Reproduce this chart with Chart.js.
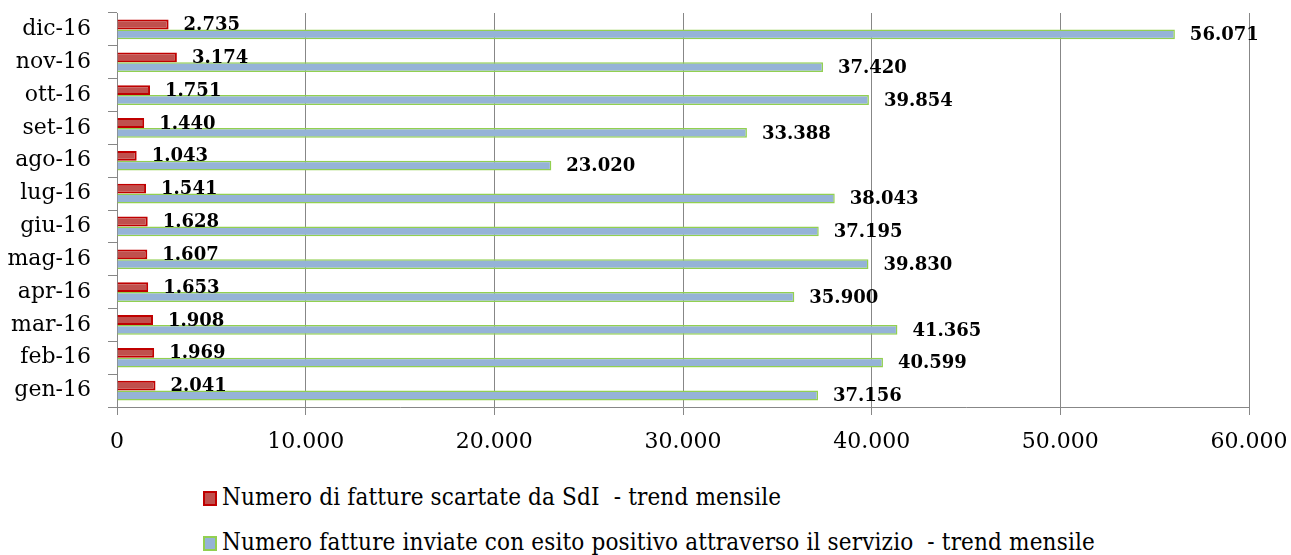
<!DOCTYPE html>
<html>
<head>
<meta charset="utf-8">
<script src="https://cdn.jsdelivr.net/npm/chart.js@4"></script>
<style>
  body { margin: 0; background: #fff; }
  #wrap { position: relative; width: 1291px; height: 555px; }
  #chart { position: absolute; left: 0; top: 0; }
  .leg { position: absolute; left: 203px; font-family: 'DejaVu Serif Condensed', 'DejaVu Serif', serif; font-stretch: condensed; font-size: 24px; letter-spacing: 0.15px; color: #000; white-space: pre; line-height: 28px; }
  .leg span.box { display: inline-block; width: 10px; height: 11px; border: 2px solid; margin-right: 5px; vertical-align: -1px; }
</style>
</head>
<body>
<div id="wrap">
  <canvas id="chart" width="1291" height="465"></canvas>
  <div class="leg" id="leg1" style="top:483px"></div>
  <div class="leg" id="leg2" style="top:528px"></div>
</div>
<script>
const months = ['dic-16', 'nov-16', 'ott-16', 'set-16', 'ago-16', 'lug-16', 'giu-16', 'mag-16', 'apr-16', 'mar-16', 'feb-16', 'gen-16'];
const scartate = [2735, 3174, 1751, 1440, 1043, 1541, 1628, 1607, 1653, 1908, 1969, 2041];
const inviate = [56071, 37420, 39854, 33388, 23020, 38043, 37195, 39830, 35900, 41365, 40599, 37156];
const xTicks = [0, 10000, 20000, 30000, 40000, 50000, 60000];
const seriesNames = [
  'Numero di fatture scartate da SdI  - trend mensile',
  'Numero fatture inviate con esito positivo attraverso il servizio  - trend mensile'
];

const colors = {
  redFill: '#C0504D',
  redLine: '#C00000',
  blueFill: '#95B3D7',
  blueLine: '#92D050',
  grid: '#878787'
};

function fmt(v) {
  return String(v).replace(/\B(?=(\d{3})+(?!\d))/g, '.');
}

const valueLabels = {
  id: 'valueLabels',
  afterDatasetsDraw(chart) {
    const ctx = chart.ctx;
    ctx.save();
    ctx.font = 'bold 18px "DejaVu Serif"';
    ctx.fillStyle = '#000';
    ctx.textAlign = 'left';
    ctx.textBaseline = 'middle';
    chart.data.datasets.forEach((ds, i) => {
      chart.getDatasetMeta(i).data.forEach((bar, j) => {
        ctx.fillText(fmt(ds.data[j]), bar.x + 15, bar.y + 1);
      });
    });
    ctx.restore();
  }
};

const ctx = document.getElementById('chart').getContext('2d');
new Chart(ctx, {
  type: 'bar',
  data: {
    labels: months,
    datasets: [
      {
        label: seriesNames[0],
        data: scartate,
        backgroundColor: colors.redFill,
        borderColor: colors.redLine,
        borderWidth: 2,
        categoryPercentage: 0.6,
        barPercentage: 1.0
      },
      {
        label: seriesNames[1],
        data: inviate,
        backgroundColor: colors.blueFill,
        borderColor: colors.blueLine,
        borderWidth: 1.5,
        categoryPercentage: 0.6,
        barPercentage: 1.0
      }
    ]
  },
  options: {
    indexAxis: 'y',
    responsive: false,
    animation: false,
    layout: { padding: { top: 13, right: 42, left: 0, bottom: 0 } },
    scales: {
      x: {
        min: 0,
        max: 60000,
        afterBuildTicks: scale => { scale.ticks = xTicks.map(v => ({ value: v })); },
        afterFit: scale => {
          scale.height = 58;
          scale.paddingLeft = 0;
          scale.paddingRight = 0;
        },
        ticks: {
          callback: v => fmt(v),
          color: '#000',
          font: { family: 'DejaVu Serif', size: 22 },
          padding: 14,
          maxRotation: 0
        },
        grid: { color: colors.grid, tickLength: 8, tickColor: colors.grid },
        border: { color: colors.grid }
      },
      y: {
        afterFit: scale => {
          scale.width = 117;
          scale.paddingTop = 0;
          scale.paddingBottom = 0;
        },
        ticks: {
          color: '#000',
          font: { family: 'DejaVu Serif', size: 22 },
          padding: 17
        },
        grid: { drawOnChartArea: false, tickLength: 9, color: colors.grid, offset: true },
        border: { color: colors.grid }
      }
    },
    plugins: {
      legend: { display: false },
      tooltip: { enabled: false }
    }
  },
  plugins: [valueLabels]
});

function legendRow(el, name, fill, line) {
  const box = document.createElement('span');
  box.className = 'box';
  box.style.background = fill;
  box.style.borderColor = line;
  el.appendChild(box);
  el.appendChild(document.createTextNode(name));
}
legendRow(document.getElementById('leg1'), seriesNames[0], colors.redFill, colors.redLine);
legendRow(document.getElementById('leg2'), seriesNames[1], colors.blueFill, colors.blueLine);
</script>
</body>
</html>
